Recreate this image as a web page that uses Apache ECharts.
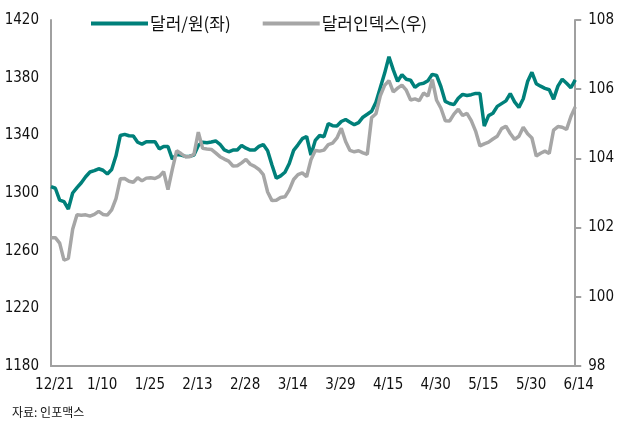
<!DOCTYPE html>
<html>
<head>
<meta charset="utf-8">
<script src="https://cdn.jsdelivr.net/npm/echarts@6/dist/echarts.min.js"></script>
<style>
  html, body { margin: 0; padding: 0; background: #fff; }
  #chart { width: 617px; height: 425px; }
</style>
</head>
<body>
<div id="chart"></div>
<script>
  var FONT = "'DejaVu Sans Condensed', 'Noto Sans', sans-serif";
  var KFONT = "'Noto Sans CJK KR', sans-serif";

  // 거래일 (라벨은 11일마다)
  var dates = [
    '12/21', '12/22', '12/26', '12/27', '12/28', '1/2', '1/3', '1/4', '1/5', '1/8', '1/9',
    '1/10', '1/11', '1/12', '1/15', '1/16', '1/17', '1/18', '1/19', '1/22', '1/23', '1/24',
    '1/25', '1/26', '1/29', '1/30', '1/31', '2/1', '2/2', '2/5', '2/6', '2/7', '2/8',
    '2/13', '2/14', '2/15', '2/16', '2/19', '2/20', '2/21', '2/22', '2/23', '2/26', '2/27',
    '2/28', '2/29', '3/1', '3/4', '3/5', '3/6', '3/7', '3/8', '3/11', '3/12', '3/13',
    '3/14', '3/15', '3/18', '3/19', '3/20', '3/21', '3/22', '3/25', '3/26', '3/27', '3/28',
    '3/29', '4/1', '4/2', '4/3', '4/4', '4/5', '4/8', '4/9', '4/10', '4/11', '4/12',
    '4/15', '4/16', '4/17', '4/18', '4/19', '4/22', '4/23', '4/24', '4/25', '4/26', '4/29',
    '4/30', '5/1', '5/2', '5/3', '5/6', '5/7', '5/8', '5/9', '5/10', '5/13', '5/14',
    '5/15', '5/16', '5/17', '5/20', '5/21', '5/22', '5/23', '5/24', '5/27', '5/28', '5/29',
    '5/30', '5/31', '6/3', '6/4', '6/5', '6/6', '6/7', '6/10', '6/11', '6/12', '6/13',
    '6/14'
  ];

  // 달러/원 (좌)
  var usdKrw = [
    1304.4, 1303.3, 1295.1, 1294.0, 1288.9, 1300.0, 1303.7, 1307.1, 1311.3, 1314.6,
    1315.5, 1316.8, 1315.8, 1313.2, 1316.3, 1325.8, 1339.9, 1340.7, 1339.7, 1339.5,
    1335.2, 1333.9, 1335.6, 1335.6, 1335.6, 1330.6, 1332.3, 1332.2, 1323.5, 1326.7,
    1326.3, 1325.4, 1325.5, 1326.3, 1333.0, 1335.2, 1334.9, 1335.4, 1336.1, 1333.8,
    1329.9, 1328.6, 1329.8, 1329.8, 1333.0, 1331.1, 1329.8, 1329.8, 1332.3, 1333.6,
    1329.3, 1319.4, 1310.3, 1311.9, 1314.4, 1320.5, 1329.6, 1333.4, 1337.7, 1339.2,
    1326.3, 1336.5, 1339.9, 1339.0, 1348.1, 1346.7, 1346.5, 1349.6, 1351.0, 1349.1,
    1347.4, 1348.8, 1352.6, 1354.6, 1356.7, 1362.9, 1373.0, 1383.0, 1394.5, 1385.4,
    1377.5, 1382.1, 1378.9, 1378.2, 1373.2, 1375.5, 1376.1, 1377.9, 1382.3, 1381.5,
    1373.7, 1363.5, 1362.1, 1361.3, 1365.7, 1368.4, 1367.6, 1368.2, 1369.1, 1369.1,
    1346.5, 1353.7, 1355.3, 1360.1, 1362.0, 1363.9, 1369.0, 1363.2, 1359.4, 1365.4,
    1377.3, 1383.7, 1375.8, 1374.1, 1372.6, 1371.6, 1365.1, 1374.1, 1378.9, 1376.1,
    1373.0, 1378.4
  ];

  // 달러인덱스 (우)
  var dxy = [
    101.71, 101.71, 101.55, 101.06, 101.11, 101.95, 102.37, 102.36, 102.37, 102.33,
    102.38, 102.47, 102.38, 102.36, 102.51, 102.84, 103.41, 103.42, 103.34, 103.31,
    103.44, 103.35, 103.43, 103.44, 103.42, 103.48, 103.62, 103.10, 103.68, 104.22,
    104.14, 104.05, 104.05, 104.12, 104.76, 104.29, 104.27, 104.26, 104.16, 104.05,
    103.98, 103.92, 103.78, 103.79, 103.87, 103.97, 103.83, 103.77, 103.68, 103.53,
    103.03, 102.78, 102.79, 102.87, 102.89, 103.09, 103.39, 103.53, 103.58, 103.47,
    103.96, 104.23, 104.21, 104.24, 104.40, 104.44, 104.59, 104.87, 104.49, 104.23,
    104.19, 104.22, 104.16, 104.12, 105.18, 105.29, 105.81, 106.11, 106.25, 105.92,
    106.03, 106.12, 105.97, 105.69, 105.72, 105.67, 105.89, 105.80, 106.28, 105.68,
    105.45, 105.09, 105.08, 105.28, 105.42, 105.24, 105.30, 105.09, 104.79, 104.36,
    104.42, 104.47, 104.56, 104.64, 104.86, 104.93, 104.72, 104.55, 104.64, 104.90,
    104.71, 104.59, 104.07, 104.15, 104.21, 104.14, 104.82, 104.92, 104.90, 104.84,
    105.21, 105.49
  ];

  var chart = echarts.init(document.getElementById('chart'), null, { renderer: 'canvas' });

  function plain(v) { return String(v); }

  var option = {
    animation: false,
    backgroundColor: '#fff',
    grid: { left: 51, right: 39, top: 20, bottom: 59, containLabel: false },
    legend: {
      left: 91,
      top: 15,
      padding: 0,
      itemGap: 32,
      itemWidth: 57,
      itemHeight: 4,
      icon: 'rect',
      textStyle: { fontFamily: KFONT, fontSize: 17, color: '#111', padding: [0, 0, 0, -3] },
      data: ['달러/원(좌)', '달러인덱스(우)']
    },
    xAxis: {
      type: 'category',
      boundaryGap: false,
      data: dates,
      axisLine: { lineStyle: { color: '#a0a0a0', width: 2 } },
      axisTick: { show: false },
      axisLabel: {
        interval: 10,
        margin: 12,
        color: '#111',
        fontFamily: FONT,
        fontSize: 15,
        padding: [0, 0, 0, 7]
      },
      splitLine: { show: false }
    },
    yAxis: [
      {
        type: 'value',
        min: 1180,
        max: 1420,
        interval: 40,
        axisLine: { show: true, lineStyle: { color: '#a0a0a0', width: 2 } },
        axisTick: { show: false },
        axisLabel: { margin: 12, color: '#111', fontFamily: FONT, fontSize: 15, formatter: plain },
        splitLine: { show: false }
      },
      {
        type: 'value',
        min: 98,
        max: 108,
        interval: 2,
        position: 'right',
        axisLine: { show: true, lineStyle: { color: '#a0a0a0', width: 2 } },
        axisTick: { show: true, length: 6, lineStyle: { color: '#a0a0a0', width: 2 } },
        axisLabel: { margin: 13, color: '#111', fontFamily: FONT, fontSize: 15, formatter: plain },
        splitLine: { show: false }
      }
    ],
    series: [
      {
        name: '달러/원(좌)',
        type: 'line',
        yAxisIndex: 0,
        data: usdKrw,
        symbol: 'none',
        color: '#00807a',
        lineStyle: { color: '#00807a', width: 3.5 }
      },
      {
        name: '달러인덱스(우)',
        type: 'line',
        yAxisIndex: 1,
        data: dxy,
        symbol: 'none',
        color: '#a6a6a6',
        lineStyle: { color: '#a6a6a6', width: 3.5 }
      }
    ],
    graphic: [
      {
        type: 'text',
        left: 12,
        top: 406,
        style: { text: '자료: 인포맥스', fontFamily: KFONT, fontSize: 12, fill: '#111' }
      }
    ]
  };

  chart.setOption(option);
</script>
</body>
</html>
